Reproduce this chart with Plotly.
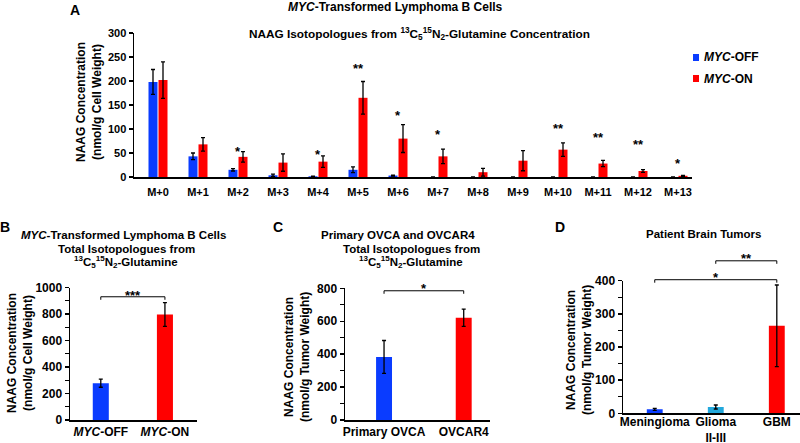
import plotly.graph_objects as go

FONT = "Arial, 'Liberation Sans', sans-serif"
BLUE = "#0a3cff"
RED = "#ff0000"
CYAN = "#22a8dc"

# ---------------- Panel A data ----------------
iso_labels = ["M+0", "M+1", "M+2", "M+3", "M+4", "M+5", "M+6",
              "M+7", "M+8", "M+9", "M+10", "M+11", "M+12", "M+13"]
myc_off = [198, 43, 15, 3.5, 1.5, 15, 3, 0, 0, 0, 0, 0, 0, 0]
myc_off_err = [26, 7, 2.5, 2.5, 0.5, 6, 1, 0, 0, 0, 0, 0, 0, 0]
myc_on = [202, 68, 42, 30, 32, 165, 80, 43, 10, 34, 57, 28, 12.5, 2.5]
myc_on_err = [38, 14, 11, 18, 12, 34, 29, 15, 8, 21, 14, 6.5, 3, 1]
sig_A = ["", "", "*", "", "*", "**", "*", "*", "", "", "**", "**", "**", "*"]
sig_A_y = [None, None, 59, None, 54, 232, 134, 94, None, None, 108, 89, 73, 35]

# ---------------- Panel B data ----------------
b_labels = ["<i>MYC</i>-OFF", "<i>MYC</i>-ON"]
b_vals = [278, 796]
b_err = [31, 90]

# ---------------- Panel C data ----------------
c_labels = ["Primary OVCA", "OVCAR4"]
c_vals = [383, 621]
c_err = [100, 52]

# ---------------- Panel D data ----------------
d_labels = ["Meningioma", "Glioma<br>II-III", "GBM"]
d_vals = [12, 19, 264]
d_err = [3, 6, 123]

W, H = 800, 443


def py(px):
    return 1 - px / H


dom = {
    "A": dict(x=[134 / W, 692 / W], y=[py(177), py(33)], yr=[0, 300]),
    "B": dict(x=[70 / W, 197 / W], y=[py(420), py(287.5)], yr=[0, 1000]),
    "C": dict(x=[345 / W, 490 / W], y=[py(420), py(288.3)], yr=[0, 800]),
    "D": dict(x=[623 / W, 1.0], y=[py(413.3), py(280.7)], yr=[0, 400]),
}


def yp(panel, v):
    d0, d1 = dom[panel]["y"]
    r0, r1 = dom[panel]["yr"]
    return d0 + (v - r0) / (r1 - r0) * (d1 - d0)


ERR = dict(type="data", color="black", thickness=1.3, width=2)

fig = go.Figure()
fig.add_trace(go.Bar(x=iso_labels, y=myc_off, name="<i>MYC</i>-OFF", marker_color=BLUE,
                     error_y=dict(array=myc_off_err, **ERR), xaxis="x", yaxis="y"))
fig.add_trace(go.Bar(x=iso_labels, y=myc_on, name="<i>MYC</i>-ON", marker_color=RED,
                     error_y=dict(array=myc_on_err, **ERR), xaxis="x", yaxis="y"))
fig.add_trace(go.Bar(x=b_labels, y=b_vals, marker_color=[BLUE, RED], width=0.25,
                     error_y=dict(array=b_err, **ERR), xaxis="x2", yaxis="y2"))
fig.add_trace(go.Bar(x=c_labels, y=c_vals, marker_color=[BLUE, RED], width=0.2,
                     error_y=dict(array=c_err, **ERR), xaxis="x3", yaxis="y3"))
fig.add_trace(go.Bar(x=d_labels, y=d_vals, marker_color=[BLUE, CYAN, RED], width=0.26,
                     error_y=dict(array=d_err, **ERR), xaxis="x4", yaxis="y4"))


def xax(panel, rng, size, standoff):
    return dict(domain=dom[panel]["x"], range=rng, type="category", showline=True,
                linecolor="black", linewidth=1.5, ticks="", showgrid=False, zeroline=False,
                tickfont=dict(family=FONT, size=size, color="black", weight="bold"),
                ticklabelstandoff=standoff, fixedrange=True, automargin=False)


def yax(panel, dtick, size, minor=None):
    d = dict(domain=dom[panel]["y"], range=dom[panel]["yr"], dtick=dtick, showline=True,
             linecolor="black", linewidth=1.5, ticks="outside", ticklen=4, tickwidth=1.3,
             tickcolor="black", showgrid=False, zeroline=False, automargin=False,
             fixedrange=True,
             tickfont=dict(family=FONT, size=size, color="black", weight="bold"))
    if minor:
        d["minor"] = dict(dtick=minor, ticks="outside", ticklen=4, tickwidth=1.3,
                          tickcolor="black", showgrid=False)
    return d


fig.update_layout(
    template="none",
    width=W, height=H, margin=dict(l=0, r=0, t=0, b=0, autoexpand=False),
    paper_bgcolor="white", plot_bgcolor="white",
    barmode="group", bargap=0.5, bargroupgap=0.1, showlegend=False,
    font=dict(family=FONT, color="black", size=12),
    xaxis=dict(xax("A", [-0.6, 13.35], 11, 4), anchor="y"),
    yaxis=dict(yax("A", 50, 11), anchor="x"),
    xaxis2=dict(xax("B", [-0.48, 1.5], 12, 0), anchor="y2"),
    yaxis2=dict(yax("B", 200, 12, 100), anchor="x2"),
    xaxis3=dict(xax("C", [-0.49, 1.33], 12, 0), anchor="y3"),
    yaxis3=dict(yax("C", 200, 12, 100), anchor="x3"),
    xaxis4=dict(xax("D", [-0.52, 2.38], 12, -3), anchor="y4"),
    yaxis4=dict(yax("D", 100, 12, 50), anchor="x4"),
)

ann = []


def text(x, y, s, size=12, xanchor="center", yanchor="middle", angle=0, xref="paper",
         yref="paper", yshift=0):
    ann.append(dict(x=x, y=y, xref=xref, yref=yref, text=s, showarrow=False,
                    xanchor=xanchor, yanchor=yanchor, textangle=angle, yshift=yshift,
                    font=dict(family=FONT, size=size, color="black", weight="bold")))


GLU = "<sup>13</sup>C<sub>5</sub><sup>15</sup>N<sub>2</sub>-Glutamine"

# Panel letters
text(75 / W, py(10), "A", 14)
text(5 / W, py(227), "B", 14)
text(278 / W, py(227), "C", 14)
text(560 / W, py(227), "D", 14)

# Titles
text(395 / W, py(7), "<i>MYC</i>-Transformed Lymphoma B Cells", 12)
text(419 / W, py(34), "NAAG Isotopologues from " + GLU + " Concentration", 11.8)

text(123 / W, py(235), "<i>MYC</i>-Transformed Lymphoma B Cells", 11.5)
text(126 / W, py(249), "Total Isotopologues from", 11.5)
text(126 / W, py(262), GLU, 11.5)

text(398 / W, py(235), "Primary OVCA and OVCAR4", 11.5)
text(411 / W, py(249), "Total Isotopologues from", 11.5)
text(411 / W, py(262), GLU, 11.5)

text(703 / W, py(234), "Patient Brain Tumors", 11.5)

# Y axis titles
text(89 / W, py(102), "NAAG Concentration<br>(nmol/g Cell Weight)", 12, angle=-90)
text(20 / W, py(353), "NAAG Concentration<br>(nmol/g Cell Weight)", 12, angle=-90)
text(297 / W, py(357), "NAAG Concentration<br>(nmol/g Tumor Weight)", 12, angle=-90)
text(579 / W, py(350), "NAAG Concentration<br>(nmol/g Tumor Weight)", 12, angle=-90)

# Legend (panel A)
shapes = []
shapes.append(dict(type="rect", xref="paper", yref="paper", x0=693 / W, x1=699 / W,
                   y0=py(61), y1=py(54), fillcolor=BLUE, line=dict(width=0)))
shapes.append(dict(type="rect", xref="paper", yref="paper", x0=693 / W, x1=699 / W,
                   y0=py(82), y1=py(75), fillcolor=RED, line=dict(width=0)))
text(702 / W, py(57.5), "<i>MYC</i>-OFF", 12, xanchor="left")
text(702 / W, py(79), "<i>MYC</i>-ON", 12, xanchor="left")

# Significance stars, panel A
for lab, s, yv in zip(iso_labels, sig_A, sig_A_y):
    if s:
        text(lab, yp("A", yv), s, 13, xref="x", yshift=-3)


def bracket(panel, xref, x0, x1, yv, label, star_y):
    yb = yp(panel, yv)
    tick = 3 / H
    shapes.append(dict(type="line", xref=xref, yref="paper", x0=x0, x1=x1, y0=yb, y1=yb,
                       line=dict(color="black", width=1)))
    for xx in (x0, x1):
        shapes.append(dict(type="line", xref=xref, yref="paper", x0=xx, x1=xx, y0=yb,
                           y1=yb - tick, line=dict(color="black", width=1)))
    text((x0 + x1) / 2, yp(panel, star_y), label, 13, xref=xref, yshift=-3)


bracket("B", "x2", 0, 1, 930, "***", 962)
bracket("C", "x3", 0, 1, 785, "*", 818)
bracket("D", "x4", 0, 2, 403, "*", 418)
bracket("D", "x4", 1, 2, 460, "**", 476)

fig.update_layout(annotations=ann, shapes=shapes)
fig.write_html(
    "out.html",
    config={"displayModeBar": False, "staticPlot": True},
    post_script=("var s=document.createElement('style');"
                 "s.innerHTML='html,body{margin:0;padding:0;overflow:hidden;}';"
                 "document.head.appendChild(s);"),
)
